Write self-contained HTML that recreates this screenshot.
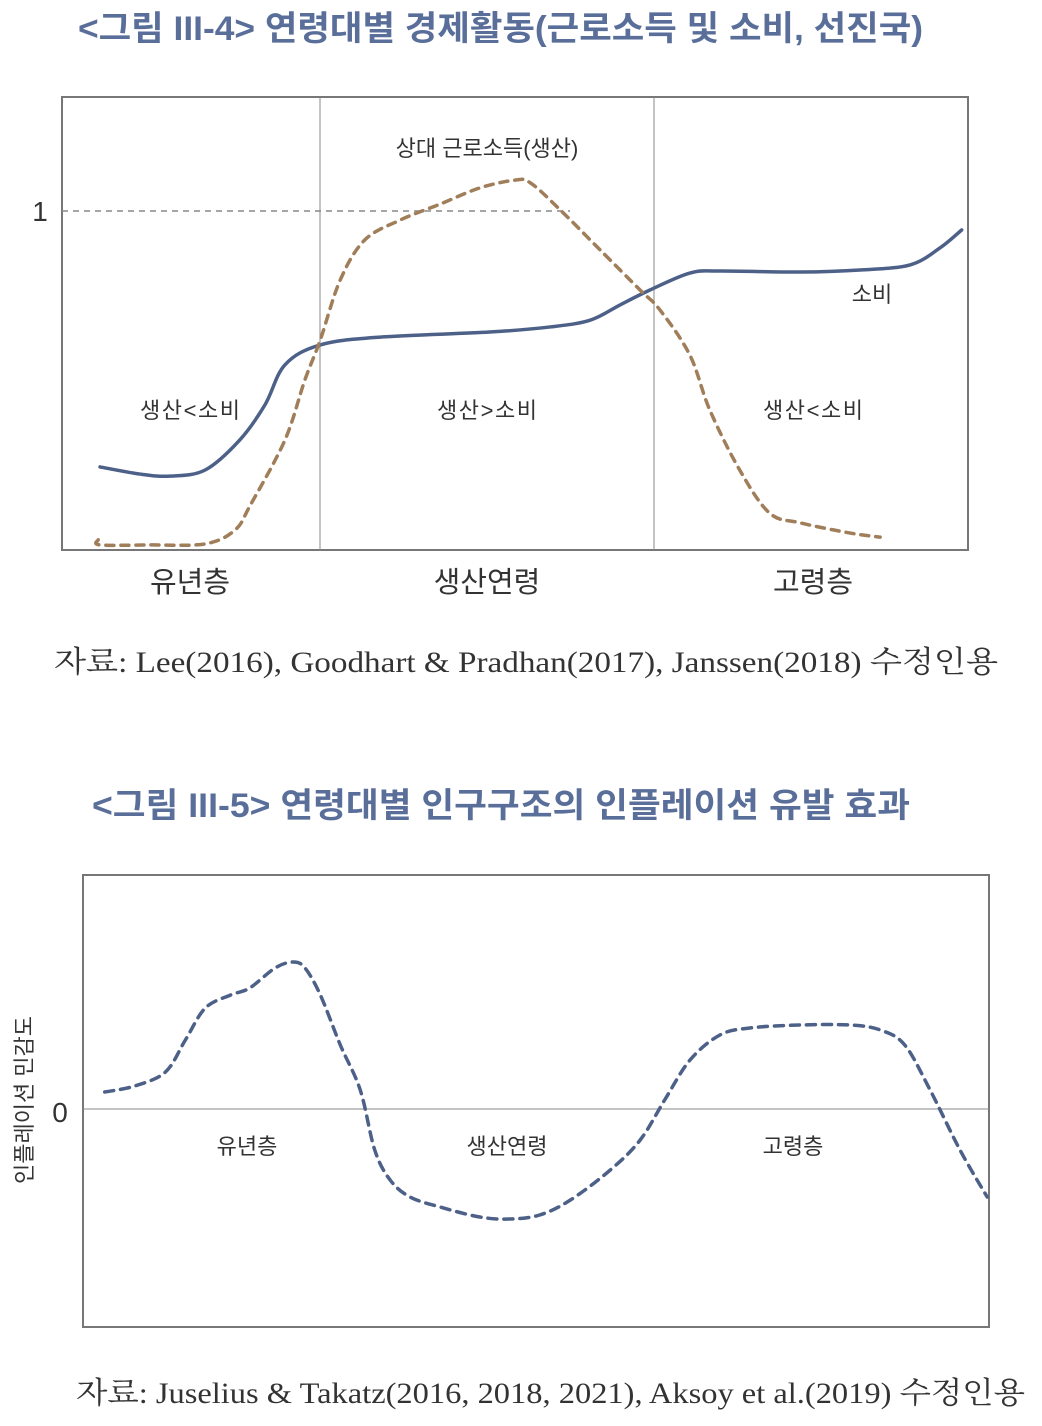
<!DOCTYPE html>
<html><head><meta charset="utf-8">
<style>
body{margin:0;background:#fff;width:1042px;height:1426px;overflow:hidden;font-family:"Liberation Sans","Noto Sans CJK KR",sans-serif;}
svg{position:absolute;left:0;top:0}
</style></head>
<body>
<svg width="1042" height="1426" xmlns="http://www.w3.org/2000/svg">
<text x="78" y="40" font-size="34" font-weight="bold" fill="#5a6e9a" textLength="845" lengthAdjust="spacingAndGlyphs">&lt;그림 III-4&gt; 연령대별 경제활동(근로소득 및 소비, 선진국)</text>
<rect x="62" y="97" width="906" height="453" fill="none" stroke="#777" stroke-width="2"/>
<line x1="320" y1="97" x2="320" y2="550" stroke="#888" stroke-width="1"/>
<line x1="654" y1="97" x2="654" y2="550" stroke="#888" stroke-width="1"/>
<line x1="62" y1="211" x2="570" y2="211" stroke="#888" stroke-width="1.5" stroke-dasharray="6,5"/>
<text x="40" y="221" font-size="28" fill="#333" text-anchor="middle">1</text>
<g id="c1"></g>
<text x="487" y="156" font-size="22" fill="#333" text-anchor="middle">상대 근로소득(생산)</text>
<text x="872" y="302" font-size="22" fill="#333" text-anchor="middle">소비</text>
<text x="190" y="418" font-size="22" fill="#333" text-anchor="middle" textLength="100">생산&lt;소비</text>
<text x="487" y="418" font-size="22" fill="#333" text-anchor="middle" textLength="100">생산&gt;소비</text>
<text x="813" y="418" font-size="22" fill="#333" text-anchor="middle" textLength="100">생산&lt;소비</text>
<text x="190" y="592" font-size="29" fill="#333" text-anchor="middle">유년층</text>
<text x="487" y="592" font-size="29" fill="#333" text-anchor="middle">생산연령</text>
<text x="813" y="592" font-size="29" fill="#333" text-anchor="middle">고령층</text>
<text x="54" y="672" font-size="30" fill="#333" font-family="Liberation Serif, Noto Serif CJK SC, serif" textLength="944" lengthAdjust="spacingAndGlyphs">자료: Lee(2016), Goodhart &amp; Pradhan(2017), Janssen(2018) 수정인용</text>

<text x="92" y="817" font-size="34" font-weight="bold" fill="#5a6e9a" textLength="818" lengthAdjust="spacingAndGlyphs">&lt;그림 III-5&gt; 연령대별 인구구조의 인플레이션 유발 효과</text>
<rect x="83" y="875" width="906" height="452" fill="none" stroke="#777" stroke-width="2"/>
<line x1="83" y1="1109" x2="989" y2="1109" stroke="#888" stroke-width="1"/>
<text x="60" y="1122" font-size="28" fill="#333" text-anchor="middle">0</text>
<text transform="translate(32,1100) rotate(-90)" font-size="22" fill="#333" text-anchor="middle">인플레이션 민감도</text>
<g id="c2"></g>
<text x="247" y="1154" font-size="22" fill="#333" text-anchor="middle">유년층</text>
<text x="507" y="1154" font-size="22" fill="#333" text-anchor="middle">생산연령</text>
<text x="793" y="1154" font-size="22" fill="#333" text-anchor="middle">고령층</text>
<text x="76" y="1403" font-size="30" fill="#333" font-family="Liberation Serif, Noto Serif CJK SC, serif" textLength="949" lengthAdjust="spacingAndGlyphs">자료: Juselius &amp; Takatz(2016, 2018, 2021), Aksoy et al.(2019) 수정인용</text>
</svg>
<script>
const consAge=[4.2,8.6,11.9,15.8,19.6,22.4,24.6,28.5,35.1,47.2,53.9,58.3,61.6,64.9,69.3,72.6,81.5,88.1,93.6,96.9,99.3];
const consVal=[0.245,0.224,0.218,0.236,0.324,0.428,0.546,0.605,0.628,0.643,0.658,0.678,0.723,0.767,0.817,0.823,0.820,0.826,0.841,0.891,0.944];
const incAge=[4.0,4.2,9.7,15.8,19.1,20.8,24.6,26.8,28.5,30.7,33.4,37.3,41.7,46.1,50.0,51.7,55.0,59.4,63.8,66.0,69.3,71.5,74.8,78.1,81.5,87.0,90.3];
const incVal=[0.03,0.015,0.015,0.018,0.059,0.133,0.324,0.501,0.619,0.796,0.914,0.973,1.02,1.068,1.091,1.083,1.003,0.885,0.767,0.708,0.575,0.413,0.236,0.109,0.080,0.050,0.038];
const inflAge=[2.4,5.7,9.1,11.3,13.5,16.3,18.4,21.2,23.2,24.5,26.2,28.4,30.6,32.2,33.9,36.1,39.4,43.8,47.1,50.4,53.8,58.2,61.5,64.2,67.0,70.3,73.6,79.1,84.7,88.0,90.7,93.5,96.8,99.8];
const inflVal=[0.085,0.115,0.185,0.345,0.505,0.57,0.605,0.705,0.735,0.705,0.57,0.32,0.095,-0.205,-0.355,-0.44,-0.49,-0.54,-0.55,-0.53,-0.455,-0.305,-0.155,0.045,0.245,0.37,0.405,0.42,0.42,0.395,0.32,0.095,-0.205,-0.44];
const x1=a=>62+a*9.06, y1=v=>550-v*339;
const x2=a=>83+a*9.06, y2=v=>1109-v*200;
function smooth(pts){
  let d=`M${pts[0][0]},${pts[0][1]}`;
  for(let i=0;i<pts.length-1;i++){
    const p0=pts[Math.max(0,i-1)],p1=pts[i],p2=pts[i+1],p3=pts[Math.min(pts.length-1,i+2)];
    const c1x=p1[0]+(p2[0]-p0[0])/6,c1y=p1[1]+(p2[1]-p0[1])/6;
    const c2x=p2[0]-(p3[0]-p1[0])/6,c2y=p2[1]-(p3[1]-p1[1])/6;
    d+=` C${c1x},${c1y} ${c2x},${c2y} ${p2[0]},${p2[1]}`;
  }
  return d;
}
const NS='http://www.w3.org/2000/svg';
function addPath(gid,xs,vs,fx,fy,color,w,dash){
  const p=document.createElementNS(NS,'path');
  p.setAttribute('d',smooth(xs.map((a,i)=>[fx(a),fy(vs[i])])));
  p.setAttribute('fill','none');p.setAttribute('stroke',color);
  p.setAttribute('stroke-width',w);p.setAttribute('stroke-linecap','round');
  if(dash)p.setAttribute('stroke-dasharray',dash);
  document.getElementById(gid).appendChild(p);
  return p;
}
const pc=addPath('c1',consAge,consVal,x1,y1,'#4d6088',3.5,null);


const pi=addPath('c1',incAge,incVal,x1,y1,'#a07e5a',3.5,'8,7');


const pf=addPath('c2',inflAge,inflVal,x2,y2,'#4d6088',3.5,'9,7');


</script>
</body></html>
